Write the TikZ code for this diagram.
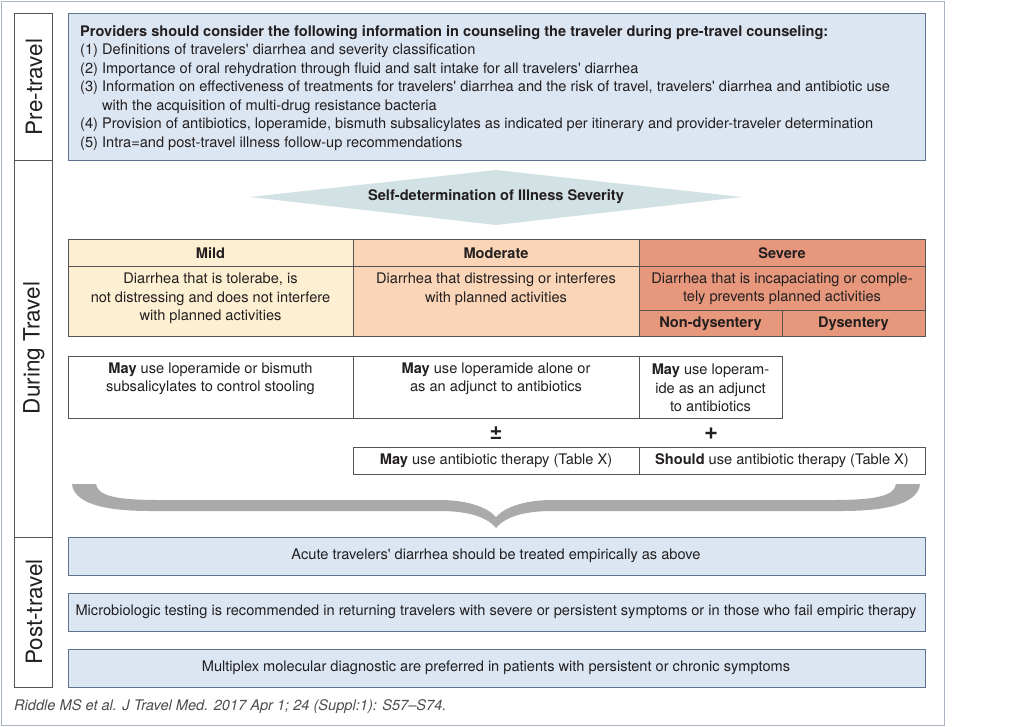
\documentclass[tikz,border=0pt]{standalone}
\usepackage{fontspec}
\setmainfont{TeX Gyre Heros}[Ligatures=TeXOff]
\definecolor{frame}{HTML}{A9B4C2}
\definecolor{boxblue}{HTML}{DCE6F2}
\definecolor{boxedge}{HTML}{5F7390}
\definecolor{diam}{HTML}{D2E1E3}
\definecolor{mild}{HTML}{FDF0D2}
\definecolor{moder}{HTML}{FAD5B7}
\definecolor{sev}{HTML}{E6977C}
\definecolor{bracegray}{HTML}{AAAAAA}
\definecolor{tablec}{HTML}{555555}
\definecolor{ink}{HTML}{231F20}
\tikzset{
  txt/.style={font=\fontsize{14.6}{18.5}\selectfont, inner sep=0pt, text=ink},
  btxt/.style={txt, font=\fontsize{14.6}{18.5}\selectfont\bfseries},
  ctxt/.style={txt, align=center},
  bluebox/.style={fill=boxblue, draw=boxedge, line width=0.9pt},
  cellbox/.style={draw=tablec, line width=0.9pt},
  sidelab/.style={rotate=90, font=\fontsize{22.5}{22.5}\selectfont, inner sep=0pt, text=ink}
}
\begin{document}
\begin{tikzpicture}[x=1pt,y=-1pt]
\useasboundingbox (0,0) rectangle (1024,726);
% outer frame
\draw[frame, line width=1pt] (1,1) rectangle (944,725);
% left column
\draw[tablec, line width=0.9pt] (14,13) rectangle (52,687);
\draw[tablec, line width=0.9pt] (14,160) -- (52,160);
\draw[tablec, line width=0.9pt] (14,537) -- (52,537);
\node[sidelab] (lpre) at (34,87) {Pre-travel};
\node[sidelab] (ldur) at (34,348) {During Travel};
\node[sidelab] (lpost) at (34,612) {Post-travel};
% pre-travel box
\draw[bluebox] (68,13) rectangle (925,160);
\node[btxt, anchor=base west] (p0) at (80,36) {Providers should consider the following information in counseling the traveler during pre-travel counseling:};
\node[txt, anchor=base west] (p1) at (80,54.5) {(1) Definitions of travelers' diarrhea and severity classification};
\node[txt, anchor=base west] (p2) at (80,73) {(2) Importance of oral rehydration through fluid and salt intake for all travelers' diarrhea};
\node[txt, anchor=base west] (p3) at (80,91.5) {(3) Information on effectiveness of treatments for travelers' diarrhea and the risk of travel, travelers' diarrhea and antibiotic use};
\node[txt, anchor=base west] (p3b) at (80,110) {\hphantom{(3) }with the acquisition of multi-drug resistance bacteria};
\node[txt, anchor=base west] (p4) at (80,128.5) {(4) Provision of antibiotics, loperamide, bismuth subsalicylates as indicated per itinerary and provider-traveler determination};
\node[txt, anchor=base west] (p5) at (80,147) {(5) Intra=and post-travel illness follow-up recommendations};
% diamond banner
\fill[diam] (250,197) -- (496,170) -- (742,197) -- (496,225) -- cycle;
\node[btxt] (selfdet) at (496,197) {Self-determination of Illness Severity};
% severity table
\filldraw[cellbox, fill=mild] (68,239) rectangle (353,266);
\filldraw[cellbox, fill=mild] (68,266) rectangle (353,336);
\filldraw[cellbox, fill=moder] (353,239) rectangle (639,266);
\filldraw[cellbox, fill=moder] (353,266) rectangle (639,336);
\filldraw[cellbox, fill=sev] (639,239) rectangle (925,266);
\filldraw[cellbox, fill=sev] (639,266) rectangle (925,310);
\filldraw[cellbox, fill=sev] (639,310) rectangle (782,336);
\filldraw[cellbox, fill=sev] (782,310) rectangle (925,336);
\node[btxt] (hmild) at (210.5,253) {Mild};
\node[btxt] (hmod) at (496,253) {Moderate};
\node[btxt] (hsev) at (782,253) {Severe};
\node[ctxt] (dmild) at (210.5,298.5) {Diarrhea that is tolerabe, is\\not distressing and does not interfere\\with planned activities};
\node[ctxt] (dmod) at (496,289) {Diarrhea that distressing or interferes\\with planned activities};
\node[ctxt] (dsev) at (782,289) {Diarrhea that is incapaciating or comple-\\tely prevents planned activities};
\node[btxt] (nondys) at (710.5,324) {Non-dysentery};
\node[btxt] (dys) at (853.5,324) {Dysentery};
% action row
\draw[cellbox, fill=white] (68,356) rectangle (353,418);
\draw[cellbox, fill=white] (353,356) rectangle (639,418);
\draw[cellbox, fill=white] (639,356) rectangle (782,418);
\node[ctxt] (amild) at (210.5,379) {\textbf{May} use loperamide or bismuth\\subsalicylates to control stooling};
\node[ctxt] (amod) at (496,379) {\textbf{May} use loperamide alone or\\as an adjunct to antibiotics};
\node[ctxt] (asev) at (710.5,388) {\textbf{May} use loperam-\\ide as an adjunct\\to antibiotics};
\node[txt, font=\fontsize{22}{22}\selectfont\bfseries] (pm) at (496,433) {±};
\node[txt, font=\fontsize{24}{24}\selectfont\bfseries] (plus) at (711,434) {+};
\draw[cellbox, fill=white] (353,447) rectangle (639,474);
\draw[cellbox, fill=white] (639,447) rectangle (925,474);
\node[txt] (abmod) at (496,461) {\textbf{May} use antibiotic therapy (Table X)};
\node[txt] (absev) at (782,461) {\textbf{Should} use antibiotic therapy (Table X)};
% brace
\fill[bracegray] (72,484) .. controls (74,502) and (100,511) .. (150,511)
  -- (440,511) .. controls (470,511) and (488,518) .. (496,528)
  .. controls (504,518) and (522,511) .. (552,511)
  -- (842,511) .. controls (892,511) and (918,502) .. (920,484)
  -- (896,484) .. controls (894,495) and (880,500) .. (832,500)
  -- (552,500) .. controls (525,500) and (505,507) .. (496,517)
  .. controls (487,507) and (467,500) .. (440,500)
  -- (160,500) .. controls (112,500) and (98,495) .. (96,484) -- cycle;
% post-travel
\draw[bluebox] (68,537) rectangle (925,575);
\draw[bluebox] (68,593) rectangle (925,631);
\draw[bluebox] (68,649) rectangle (925,687);
\node[txt] (post1) at (496,556) {Acute travelers' diarrhea should be treated empirically as above};
\node[txt] (post2) at (496,612) {Microbiologic testing is recommended in returning travelers with severe or persistent symptoms or in those who fail empiric therapy};
\node[txt] (post3) at (496,668) {Multiplex molecular diagnostic are preferred in patients with persistent or chronic symptoms};
% caption
\node[txt, anchor=base west, font=\fontsize{14.6}{16}\selectfont\itshape, text=black!70] (cap) at (14,710.5) {Riddle MS et al. J Travel Med. 2017 Apr 1; 24 (Suppl:1): S57–S74.};
\end{tikzpicture}
\end{document}
